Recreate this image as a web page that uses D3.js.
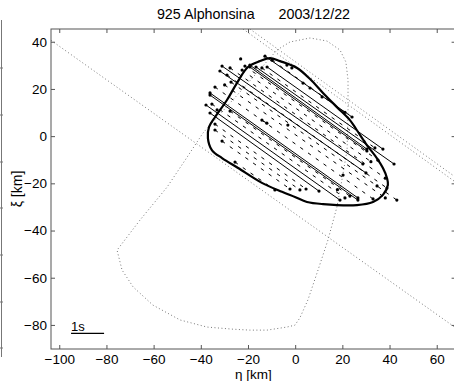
<!DOCTYPE html>
<html><head><meta charset="utf-8">
<script src="https://cdn.jsdelivr.net/npm/d3@7"></script>
<style>
body{margin:0;background:#fff;}
svg{display:block;font-family:"Liberation Sans",Arial,Helvetica,sans-serif;}
</style></head>
<body><svg id="c" width="454" height="381"></svg>
<script>
// ---- data ----
const title = "925 Alphonsina      2003/12/22";
const xLabel = "η [km]";
const yLabel = "ξ [km]";
const xTicks = [-100,-80,-60,-40,-20,0,20,40,60];
const yTicks = [40,20,0,-20,-40,-60,-80];
const xDomain = [-103.5, 68];
const yDomain = [-90.2, 45.4];

// asteroid profile (η, ξ)
const profile = [
 [-10.7,33.1],[-6.4,31.8],[0.8,28.9],[6.3,24.2],[11.8,18.3],[17.7,12.3],[23.2,6.8],
 [26.1,2.6],[30.4,-3.8],[34.6,-9.3],[37.2,-13.5],[38.9,-17.7],[39.3,-20.7],[37.2,-24.9],
 [33.0,-27.9],[26.2,-29.2],[11.8,-28.8],[5.0,-27.9],[-0.1,-25.8],[-5.6,-23.6],
 [-14.1,-19.8],[-24.2,-13.5],[-31.0,-9.3],[-35.3,-5.9],[-37.0,-0.8],[-36.5,3.9],
 [-34.0,8.0],[-28.9,15.3],[-24.7,22.5],[-20.0,29.3],[-14.9,31.8]
];

// observed chords (η1, ξ1, η2, ξ2)
const solidChords = [
 [-12.8,33.9,24.1,8.1],
 [-11.9,29.3,37.2,-5.5],
 [-19.2,30.1,30.4,-5.5],
 [-19.2,29.3,30.4,-6.3],
 [-16.6,29.3,41.9,-11.8],
 [-31.0,29.7,28.7,-11.8],
 [-31.9,27.6,30.0,-15.6],
 [-36.1,18.3,26.6,-26.2],
 [-36.1,17.4,26.6,-27.1],
 [-37.8,13.2,19.0,-27.1],
 [-36.1,9.8,10.1,-23.3],
 [-14.1,6.8,-12.0,5.5]
];
const dashedChords = [
 [-28.9,25.9,38.9,-22.0],
 [-27.2,22.9,43.1,-27.1],
 [-22.5,28.0,32.1,-10.8],
 [-27.6,10.6,23.2,-25.4],
 [-34.0,5.1,4.6,-22.4],
 [-31.0,-2.1,-2.2,-22.4],
 [-25.5,-11.0,-8.6,-22.8],
 [-34.0,20.8,33.0,-26.6],
 [-29.9,21.7,38.2,-26.2],
 [-9.8,32.2,21.1,10.1],
 [-14.1,28.9,33.8,-5.0],
 [-21.3,29.7,35.1,-10.2],
 [-27.6,28.9,38.2,-17.8],
 [-35.3,13.6,21.1,-26.2],
 [-34.0,2.6,2.0,-22.8]
];
const extraDots = [
 [-23.1,32.7],[-3.5,30.1],[-1.4,28.9],[3.3,22.5],[6.3,20.4],[11.4,16.6],
 [-33.1,11.1],[-3.1,4.7],[34.7,-21.1],[17.9,-22.7],[20.3,-16.5]
];

// dotted reference lines (η, ξ)
const dottedLine1 = [[-103.5,40.6],[68,-81.2]];
const dottedLine2 = [[-22.1,45.4],[68,-19.5]];
const dottedLine3 = [[-19.2,45.4],[68,-17.4]];
const dottedLoop = [
 [-7.7,36.5],[-2.2,39.9],[6.3,41.6],[13.5,40.3],[19.0,36.5],[21.5,31.4],[22.4,23.8],
 [22.4,11.1],[22.0,-5.9],[19.8,-18.6],[17.7,-30.0],[13.9,-44.0],[9.7,-56.7],[5.4,-69.4],
 [2.0,-77.0],[-0.1,-80.1],[-3.5,-80.9],[-11.9,-82.2],[-19.2,-82.2],[-26.4,-81.8],
 [-37.4,-80.9],[-48.8,-77.9],[-60.3,-71.6],[-68.7,-63.9],[-73.4,-56.7],[-75.5,-48.3],
 [-65.8,-35.6],[-54.3,-21.6],[-45.8,-8.9],[-39.1,1.3],[-23.4,18.7],[-7.7,36.5]
];
const scaleBar = [[-95,-83.6],[-81,-83.6]];
const scaleBarLabel = "1s";

// ---- drawing ----
const svg = d3.select("#c");
const L = 51, R = 455.6, T = 29, B = 349;
const x = d3.scaleLinear().domain(xDomain).range([L, R]);
const y = d3.scaleLinear().domain(yDomain).range([B, T]);

svg.append("defs").append("clipPath").attr("id","clip")
  .append("rect").attr("x",L).attr("y",T).attr("width",R-L).attr("height",B-T);

// remnant of neighbouring panel at far left
svg.append("line").attr("x1",1.5).attr("x2",1.5).attr("y1",20).attr("y2",357)
  .attr("stroke","#777").attr("stroke-width",1);
[68,115,162,208,255,302,348].forEach(v=>{
  svg.append("line").attr("x1",0).attr("x2",3).attr("y1",v).attr("y2",v)
    .attr("stroke","#777").attr("stroke-width",1);
});

const g = svg.append("g").attr("clip-path","url(#clip)");
const line = d3.line().x(d=>x(d[0])).y(d=>y(d[1]));

// dotted
[dottedLine1, dottedLine2, dottedLine3].forEach(p=>{
  g.append("path").attr("d",line(p)).attr("fill","none")
   .attr("stroke","#777").attr("stroke-width",1).attr("stroke-dasharray","1,2.5");
});
g.append("path").attr("d",line(dottedLoop)).attr("fill","none")
  .attr("stroke","#777").attr("stroke-width",1).attr("stroke-dasharray","1,2.5");

// dashed chords
g.selectAll(".dc").data(dashedChords).join("line")
  .attr("x1",d=>x(d[0])).attr("y1",d=>y(d[1])).attr("x2",d=>x(d[2])).attr("y2",d=>y(d[3]))
  .attr("stroke","#000").attr("stroke-width",1).attr("stroke-dasharray","3.5,6");
// solid chords
g.selectAll(".sc").data(solidChords).join("line")
  .attr("x1",d=>x(d[0])).attr("y1",d=>y(d[1])).attr("x2",d=>x(d[2])).attr("y2",d=>y(d[3]))
  .attr("stroke","#000").attr("stroke-width",1);
// endpoints
const pts = [];
solidChords.concat(dashedChords).forEach(d=>{pts.push([d[0],d[1]]);pts.push([d[2],d[3]]);});
extraDots.forEach(d=>pts.push(d));
g.selectAll(".pt").data(pts).join("circle")
  .attr("cx",d=>x(d[0])).attr("cy",d=>y(d[1])).attr("r",1.6).attr("fill","#000");

// profile
g.append("path").attr("d",d3.line().x(d=>x(d[0])).y(d=>y(d[1])).curve(d3.curveCatmullRomClosed)(profile))
  .attr("fill","none").attr("stroke","#000").attr("stroke-width",2.2);

// scale bar
g.append("path").attr("d",line(scaleBar)).attr("stroke","#000").attr("stroke-width",1.2);
svg.append("text").attr("x",x(scaleBar[0][0])).attr("y",y(scaleBar[0][1])-2.5)
  .attr("font-size",13).text(scaleBarLabel);

// axes
const axCol = "#555";
const fmt = d=>d<0?"\u2212"+Math.abs(d):""+d;
const xa = svg.append("g").attr("transform",`translate(0,${B})`)
  .call(d3.axisBottom(x).tickValues(xTicks).tickSizeInner(-4).tickSizeOuter(0).tickPadding(5).tickFormat(fmt));
const xt = svg.append("g").attr("transform",`translate(0,${T})`)
  .call(d3.axisTop(x).tickValues(xTicks).tickSizeInner(-4).tickSizeOuter(0).tickFormat(""));
const ya = svg.append("g").attr("transform",`translate(${L},0)`)
  .call(d3.axisLeft(y).tickValues(yTicks).tickSizeInner(-4).tickSizeOuter(0).tickPadding(4).tickFormat(fmt));
const yr = svg.append("g").attr("transform",`translate(${R},0)`)
  .call(d3.axisRight(y).tickValues(yTicks).tickSizeInner(-4).tickSizeOuter(0).tickFormat(""));
[xa,xt,ya,yr].forEach(a=>{
  a.select(".domain").remove();
  a.selectAll("line").attr("stroke",axCol);
  a.selectAll("text").attr("font-size",13.5).attr("fill","#000")
   .attr("font-family","'Liberation Sans',Arial,sans-serif");
});
svg.append("rect").attr("x",L).attr("y",T).attr("width",R-L).attr("height",B-T)
  .attr("fill","none").attr("stroke",axCol).attr("stroke-width",1);

// labels
svg.append("text").attr("x",(L+R)/2).attr("y",378.5).attr("text-anchor","middle")
  .attr("font-size",13.5).text(xLabel);
svg.append("text").attr("transform",`translate(22,${(T+B)/2}) rotate(-90)`)
  .attr("text-anchor","middle").attr("font-size",14).text(yLabel);
svg.append("text").attr("x",253.5).attr("y",19).attr("text-anchor","middle")
  .attr("font-size",14.3).style("white-space","pre").text(title);
</script></body></html>
